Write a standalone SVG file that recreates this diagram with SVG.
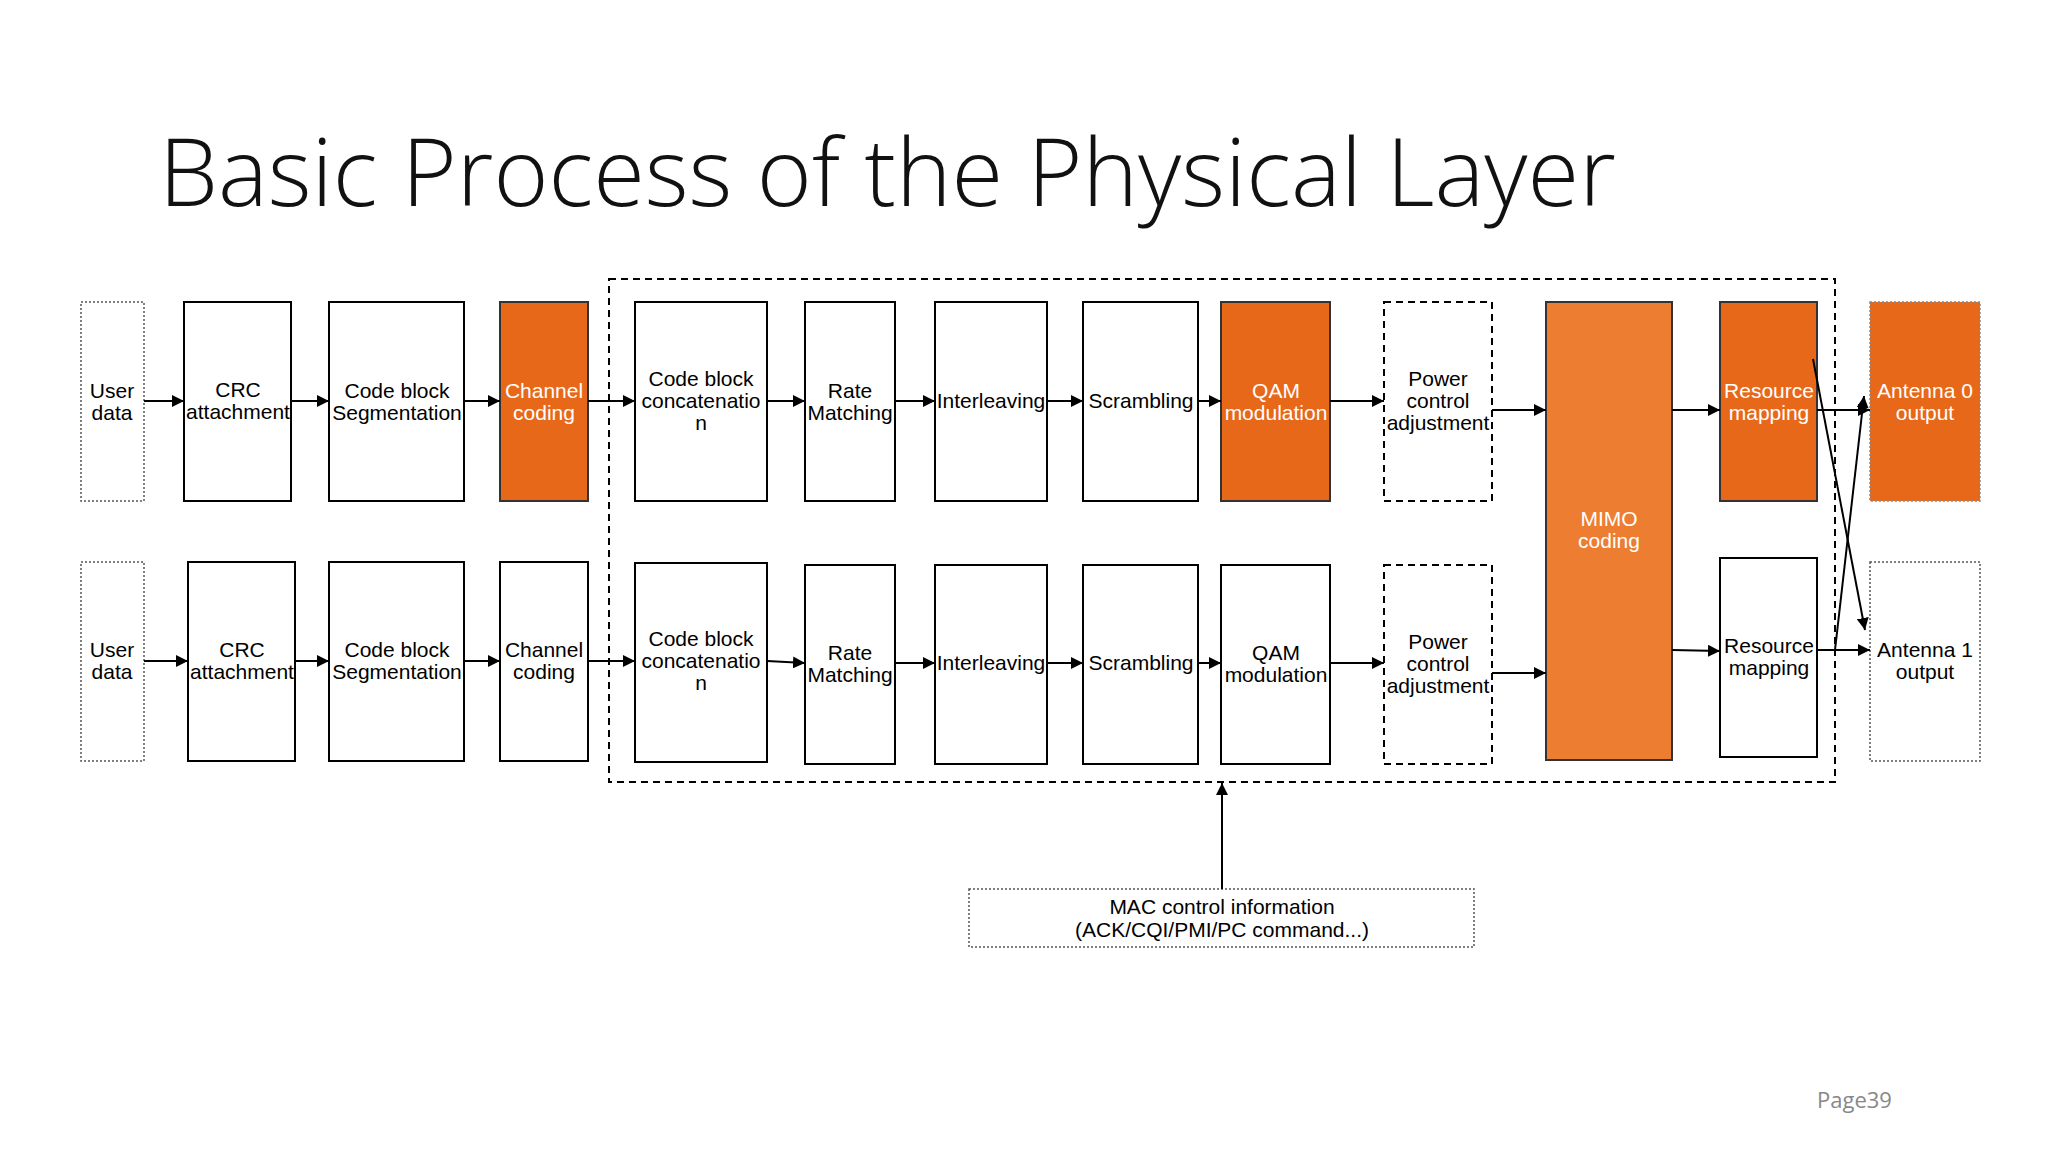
<svg xmlns="http://www.w3.org/2000/svg" width="2048" height="1152" viewBox="0 0 2048 1152">
<defs>
<marker id="ah" viewBox="0 0 10 10" refX="10" refY="5" markerWidth="6" markerHeight="6" orient="auto"><path d="M0,0L10,5L0,10z" fill="#000"/></marker>
<style>
.b{fill:#fff;stroke:#000;stroke-width:2}
.o{fill:#E8681A;stroke:#333;stroke-width:2}
.m{fill:#ED7D31;stroke:#333;stroke-width:2}
.dot{fill:#fff;stroke:#555;stroke-width:1.5;stroke-dasharray:2 2}
.dash{fill:#fff;stroke:#000;stroke-width:2;stroke-dasharray:7 5}
text{font-family:"Liberation Sans",Arial,sans-serif;font-size:21px;text-anchor:middle}
.w{fill:#fff}
.c line,.c path{stroke:#000;stroke-width:2;fill:none;marker-end:url(#ah)}
</style>
</defs>
<rect width="2048" height="1152" fill="#fff"/>
<text x="159" y="206" style="font-family:'Open Sans','Noto Sans',sans-serif;font-size:94px;text-anchor:start;font-weight:300" fill="#111">Basic Process of the Physical Layer</text>
<rect x="609" y="279" width="1226" height="503" fill="none" stroke="#000" stroke-width="2" stroke-dasharray="7 5"/>
<g id="ud1"><rect class="dot" x="81" y="302" width="63" height="199"/><text x="112" y="398">User</text><text x="112" y="420">data</text></g>
<g id="crc1"><rect class="b" x="184" y="302" width="107" height="199"/><text x="238" y="397">CRC</text><text x="238" y="419">attachment</text></g>
<g id="cbs1"><rect class="b" x="329" y="302" width="135" height="199"/><text x="397" y="398">Code block</text><text x="397" y="420">Segmentation</text></g>
<g id="cc1"><rect class="o" x="500" y="302" width="88" height="199"/><text class="w" x="544" y="398">Channel</text><text class="w" x="544" y="420">coding</text></g>
<g id="cbc1"><rect class="b" x="635" y="302" width="132" height="199"/><text x="701" y="386">Code block</text><text x="701" y="408">concatenatio</text><text x="701" y="430">n</text></g>
<g id="rm1"><rect class="b" x="805" y="302" width="90" height="199"/><text x="850" y="398">Rate</text><text x="850" y="420">Matching</text></g>
<g id="il1"><rect class="b" x="935" y="302" width="112" height="199"/><text x="991" y="408">Interleaving</text></g>
<g id="sc1"><rect class="b" x="1083" y="302" width="115" height="199"/><text x="1141" y="408">Scrambling</text></g>
<g id="qam1"><rect class="o" x="1221" y="302" width="109" height="199"/><text class="w" x="1276" y="398">QAM</text><text class="w" x="1276" y="420">modulation</text></g>
<g id="pc1"><rect class="dash" x="1384" y="302" width="108" height="199"/><text x="1438" y="386">Power</text><text x="1438" y="408">control</text><text x="1438" y="430">adjustment</text></g>
<g id="rs1"><rect class="o" x="1720" y="302" width="97" height="199"/><text class="w" x="1769" y="398">Resource</text><text class="w" x="1769" y="420">mapping</text></g>
<g id="an0"><rect x="1870" y="302" width="110" height="199" fill="#E8681A" stroke="#888" stroke-width="1.5" stroke-dasharray="2 2"/><text class="w" x="1925" y="398">Antenna 0</text><text class="w" x="1925" y="420">output</text></g>
<g id="ud2"><rect class="dot" x="81" y="562" width="63" height="199"/><text x="112" y="657">User</text><text x="112" y="679">data</text></g>
<g id="crc2"><rect class="b" x="188" y="562" width="107" height="199"/><text x="242" y="657">CRC</text><text x="242" y="679">attachment</text></g>
<g id="cbs2"><rect class="b" x="329" y="562" width="135" height="199"/><text x="397" y="657">Code block</text><text x="397" y="679">Segmentation</text></g>
<g id="cc2"><rect class="b" x="500" y="562" width="88" height="199"/><text x="544" y="657">Channel</text><text x="544" y="679">coding</text></g>
<g id="cbc2"><rect class="b" x="635" y="563" width="132" height="199"/><text x="701" y="646">Code block</text><text x="701" y="668">concatenatio</text><text x="701" y="690">n</text></g>
<g id="rm2"><rect class="b" x="805" y="565" width="90" height="199"/><text x="850" y="660">Rate</text><text x="850" y="682">Matching</text></g>
<g id="il2"><rect class="b" x="935" y="565" width="112" height="199"/><text x="991" y="670">Interleaving</text></g>
<g id="sc2"><rect class="b" x="1083" y="565" width="115" height="199"/><text x="1141" y="670">Scrambling</text></g>
<g id="qam2"><rect class="b" x="1221" y="565" width="109" height="199"/><text x="1276" y="660">QAM</text><text x="1276" y="682">modulation</text></g>
<g id="pc2"><rect class="dash" x="1384" y="565" width="108" height="199"/><text x="1438" y="649">Power</text><text x="1438" y="671">control</text><text x="1438" y="693">adjustment</text></g>
<g id="mimo"><rect class="m" x="1546" y="302" width="126" height="458"/><text class="w" x="1609" y="526">MIMO</text><text class="w" x="1609" y="548">coding</text></g>
<g id="rs2"><rect class="b" x="1720" y="558" width="97" height="199"/><text x="1769" y="653">Resource</text><text x="1769" y="675">mapping</text></g>
<g id="an1"><rect class="dot" x="1870" y="562" width="110" height="199"/><text x="1925" y="657">Antenna 1</text><text x="1925" y="679">output</text></g>
<g id="mac"><rect class="dot" x="969" y="889" width="505" height="58"/><text x="1222" y="914">MAC control information</text><text x="1222" y="937">(ACK/CQI/PMI/PC command...)</text></g>
<text x="1817" y="1108" style="font-family:'Open Sans',sans-serif;font-size:22px;text-anchor:start" fill="#888">Page39</text>
<g class="c" id="connectors">
<line x1="144" y1="401" x2="184" y2="401"/><line x1="291" y1="401" x2="329" y2="401"/><line x1="464" y1="401" x2="500" y2="401"/><line x1="588" y1="401" x2="635" y2="401"/><line x1="767" y1="401" x2="805" y2="401"/><line x1="895" y1="401" x2="935" y2="401"/><line x1="1047" y1="401" x2="1083" y2="401"/><line x1="1198" y1="401" x2="1221" y2="401"/><line x1="1330" y1="401" x2="1384" y2="401"/><line x1="1492" y1="410" x2="1546" y2="410"/><line x1="1672" y1="410" x2="1720" y2="410"/><line x1="1817" y1="410" x2="1870" y2="410"/>
<line x1="144" y1="661" x2="188" y2="661"/><line x1="295" y1="661" x2="329" y2="661"/><line x1="464" y1="661" x2="500" y2="661"/><line x1="588" y1="661" x2="635" y2="661"/><line x1="767" y1="661" x2="805" y2="663"/><line x1="895" y1="663" x2="935" y2="663"/><line x1="1047" y1="663" x2="1083" y2="663"/><line x1="1198" y1="663" x2="1221" y2="663"/><line x1="1330" y1="663" x2="1384" y2="663"/><line x1="1492" y1="673" x2="1546" y2="673"/><line x1="1672" y1="650" x2="1720" y2="651"/><line x1="1817" y1="650" x2="1870" y2="650"/>
<line x1="1813" y1="359" x2="1865" y2="630"/><line x1="1835" y1="650" x2="1864" y2="396"/>
<line x1="1222" y1="889" x2="1222" y2="783"/>
</g>
</svg>
